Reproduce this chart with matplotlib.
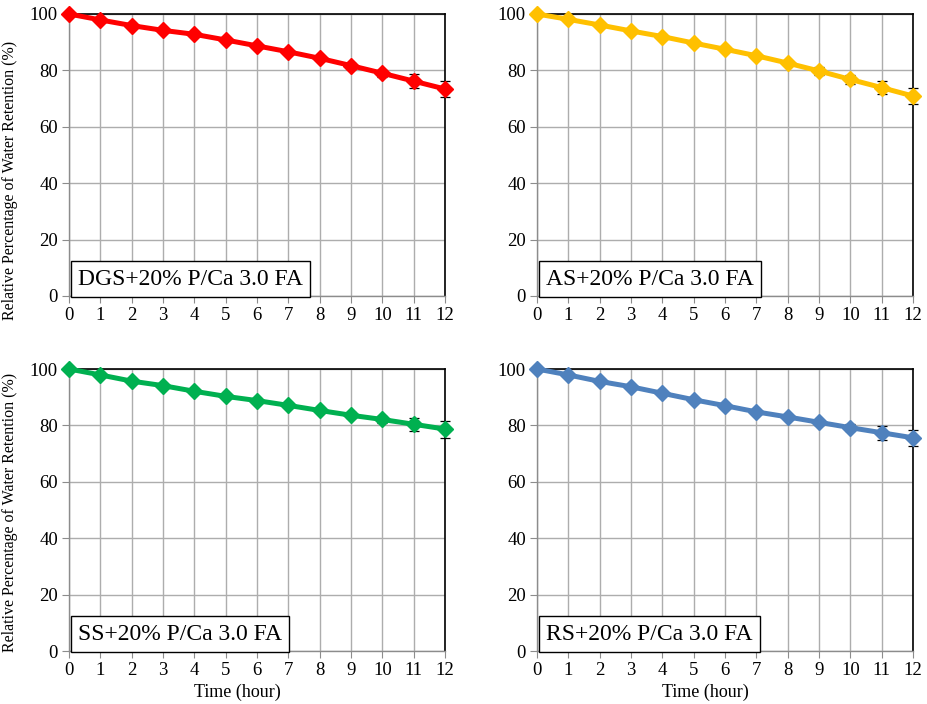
import matplotlib
matplotlib.use('Agg')
import matplotlib.pyplot as plt
import numpy as np

plt.rcParams['font.family'] = ['Liberation Serif', 'DejaVu Serif']

hours = list(range(13))

dgs = [100, 97.9, 95.9, 94.2, 92.8, 90.8, 88.7, 86.6, 84.3, 81.7, 79.0, 76.2, 73.4]
dgs_err = [0, 0.2, 0.3, 0.3, 0.3, 0.4, 0.4, 0.5, 0.6, 1.1, 1.3, 2.4, 2.8]
as_ = [100, 98.1, 96.1, 94.0, 92.0, 89.7, 87.5, 85.2, 82.6, 79.8, 76.8, 73.9, 70.9]
as_err = [0, 0.2, 0.3, 0.3, 0.3, 0.4, 0.5, 0.5, 0.6, 1.5, 1.6, 2.4, 2.8]
ss = [100, 97.9, 95.7, 94.1, 92.1, 90.3, 88.8, 87.1, 85.3, 83.6, 82.1, 80.4, 78.7]
ss_err = [0, 0.2, 0.3, 0.3, 0.3, 0.4, 0.4, 0.5, 0.6, 1.1, 1.2, 2.4, 3.0]
rs = [100, 97.9, 95.6, 93.7, 91.4, 89.1, 87.0, 84.8, 83.0, 81.1, 79.2, 77.4, 75.6]
rs_err = [0, 0.2, 0.3, 0.3, 0.3, 0.4, 0.4, 0.5, 0.6, 0.8, 1.2, 2.4, 2.9]

labels = ['DGS+20% P/Ca 3.0 FA', 'AS+20% P/Ca 3.0 FA',
          'SS+20% P/Ca 3.0 FA', 'RS+20% P/Ca 3.0 FA']
colors = ['#FF0000', '#FFC000', '#00B050', '#4F81BD']
series = [(dgs, dgs_err), (as_, as_err), (ss, ss_err), (rs, rs_err)]

fig = plt.figure(figsize=(9.27, 7.04), dpi=100)
W, H = 927, 704
# panel boxes in pixels: left, top, right, bottom
boxes = [(69, 14, 445, 296), (537, 14, 913, 296),
         (69, 369, 445, 651), (537, 369, 913, 651)]

for i, (box, (vals, errs), lab, col) in enumerate(zip(boxes, series, labels, colors)):
    l, t, r, b = box
    ax = fig.add_axes([l / W, 1 - b / H, (r - l) / W, (b - t) / H])
    ax.set_xlim(0, 12)
    ax.set_ylim(0, 100)
    ax.set_xticks(hours)
    ax.set_yticks(np.arange(0, 101, 20))
    ax.grid(True, color='#ADADAD', lw=1.0)
    ax.set_axisbelow(True)
    for s in ['top', 'right']:
        ax.spines[s].set_color('black')
        ax.spines[s].set_linewidth(1.2)
    for s in ['left', 'bottom']:
        ax.spines[s].set_color('#8C8C8C')
        ax.spines[s].set_linewidth(1.0)
    ax.tick_params(direction='out', length=5, color='#8C8C8C', labelsize=13.5, pad=3)

    # error bars sit under the markers, only the larger ones show
    ax.errorbar(hours, vals, yerr=errs, fmt='none', ecolor='black', elinewidth=0.9,
                capsize=3.5, capthick=0.9, clip_on=False, zorder=2)
    ax.plot(hours, vals, color=col, lw=3.6, marker='D', ms=8.5, clip_on=False, zorder=3)

    ax.text(0.024, 0.06, lab, transform=ax.transAxes, fontsize=17,
            ha='left', va='center', zorder=5,
            bbox=dict(boxstyle='square,pad=0.3', fc='white', ec='black', lw=1.0))

    if i % 2 == 0:
        ax.set_ylabel('Relative Percentage of Water Retention (%)', fontsize=11.5)
        ax.yaxis.set_label_coords(-0.136, 0.41 if i == 0 else 0.49)
    if i >= 2:
        ax.set_xlabel('Time (hour)', fontsize=13)
        ax.xaxis.set_label_coords(0.447, -0.115)

fig.savefig('out.png', dpi=100)
